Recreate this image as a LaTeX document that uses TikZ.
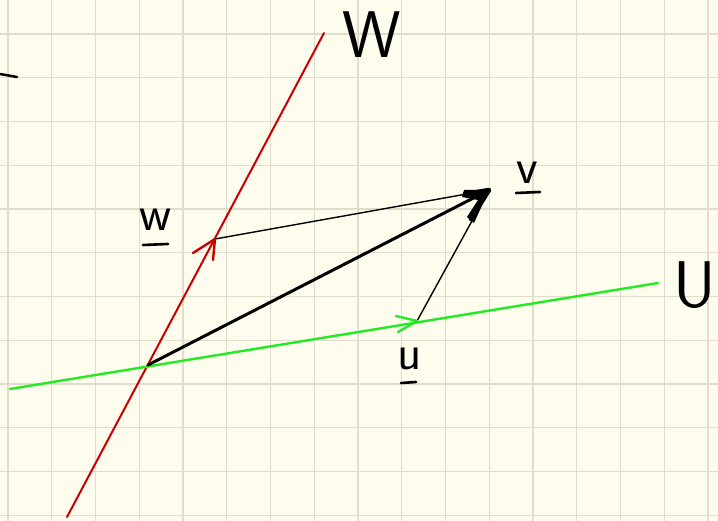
\documentclass[tikz,border=0pt]{standalone}
\usepackage{fontspec}
\begin{document}
\begin{tikzpicture}[x=1pt,y=-1pt,line cap=round,line join=round,
  gridline/.style={draw=gridc,line width=1.2pt},
  redline/.style={draw=redc,line width=2pt},
  greenline/.style={draw=greenc,line width=2.4pt},
  thinvec/.style={draw=black,line width=1.4pt},
  thickvec/.style={draw=black,line width=3pt},
  lbl/.style={inner sep=0pt,font=\sffamily\fontsize{50}{50}\selectfont},
  biglbl/.style={inner sep=0pt,font=\sffamily\fontsize{66}{66}\selectfont},
  uline/.style={draw=black,line width=2.6pt}]
\definecolor{bgc}{RGB}{254,252,237}
\definecolor{gridc}{RGB}{224,221,204}
\definecolor{redc}{RGB}{200,0,0}
\definecolor{greenc}{RGB}{35,235,35}
\useasboundingbox (0,0) rectangle (718,521);
\fill[bgc] (0,0) rectangle (718,521);
% grid
\foreach \k in {0,...,16} \draw[gridline] ({8+43.75*\k},0) -- ({8+43.75*\k},521);
\foreach \k in {0,...,11} \draw[gridline] (0,{34+43.75*\k}) -- (718,{34+43.75*\k});
% key points
\coordinate (O) at (148,365);
\coordinate (W1) at (67,517);
\coordinate (W2) at (324,33);
\coordinate (U1) at (10,389);
\coordinate (U2) at (658,283);
\coordinate (w) at (215,239);
\coordinate (u) at (417,321);
\coordinate (v) at (489,190);
\coordinate (m1) at (0,74);
\coordinate (m2) at (17,77);
% subspaces
\draw[redline] (W1) -- (W2);
\draw[greenline] (U1) -- (U2);
% vectors
\draw[thinvec] (w) -- (v);
\draw[thinvec] (u) -- (v);
\draw[thickvec] (O) -- (v);
% arrowheads
\draw[redc,line width=2.4pt] (193,253) -- (w) -- (213,260);
\draw[greenc,line width=2.4pt] (396,316) -- (u) -- (398,332);
\fill[black] (v) -- (464,190) -- (462,197) -- (478,200) -- (467,217) -- (474,223) -- cycle;
\draw[black,line width=4.5pt] (465,194) -- (v) -- (471,219);
% stray mark
\draw[black,line width=2.5pt] (m1) -- (m2);
% labels
\node[lbl] (wl) at (156,220) {w};
\draw[uline] (143,245) -- (168,244);
\node[lbl] (vl) at (527,173) {v};
\draw[uline] (516,193) -- (540,192);
\node[lbl] (ul) at (410,359) {u};
\draw[uline] (401,383) -- (416,382);
\node[biglbl] (Wl) at (372,35) {W};
\node[biglbl] (Ul) at (695,285) {U};
\end{tikzpicture}
\end{document}
